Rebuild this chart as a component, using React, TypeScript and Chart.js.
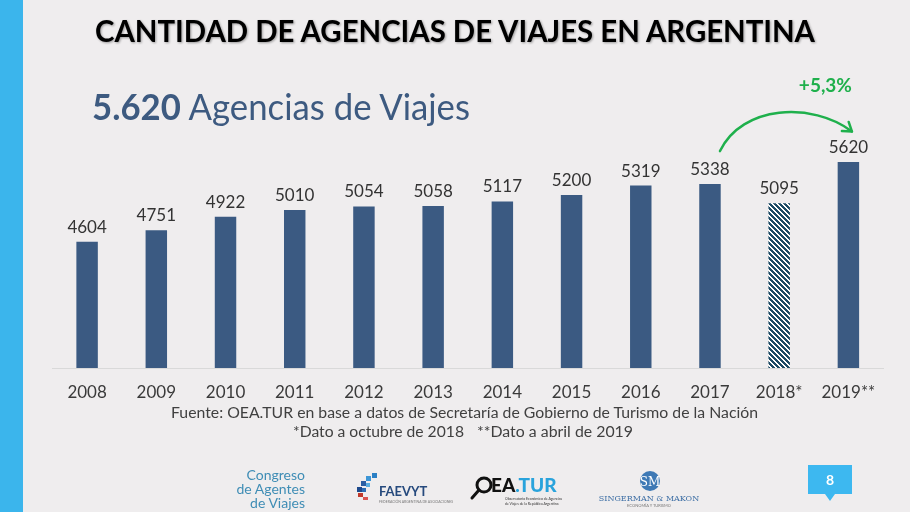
import React, { useEffect, useRef } from "react";
import { Chart, registerables } from "chart.js";

Chart.register(...registerables);

// ---- data ----
const years = ["2008", "2009", "2010", "2011", "2012", "2013", "2014", "2015", "2016", "2017", "2018*", "2019**"];
const agencies = [4604, 4751, 4922, 5010, 5054, 5058, 5117, 5200, 5319, 5338, 5095, 5620];
const estimated = [false, false, false, false, false, false, false, false, false, false, true, false];
const yMin = 3000;
const yMax = 6000;
const growthFrom = 9; // 2017
const growthTo = 11; // 2019**

const BAR = "#3b5a82";
const GREEN = "#1fb04c";
const FONT = "Lato, 'Open Sans', sans-serif";

function makeHatch(): CanvasPattern | string {
  const s = 5;
  const c = document.createElement("canvas");
  c.width = s;
  c.height = s;
  const g = c.getContext("2d");
  if (!g) return BAR;
  const img = g.createImageData(s, s);
  for (let y = 0; y < s; y++) {
    for (let x = 0; x < s; x++) {
      const dark = (((x - y) % s) + s) % s < 3;
      const i = (y * s + x) * 4;
      if (dark) {
        img.data[i] = 0x1d; img.data[i + 1] = 0x4a; img.data[i + 2] = 0x64;
      } else {
        img.data[i] = 255; img.data[i + 1] = 255; img.data[i + 2] = 255;
      }
      img.data[i + 3] = 255;
    }
  }
  g.putImageData(img, 0, 0);
  const main = document.createElement("canvas").getContext("2d");
  return main ? (main.createPattern(c, "repeat") as CanvasPattern) : BAR;
}

const labelsPlugin = {
  id: "valueLabelsAndArrow",
  afterDatasetsDraw(chart: any) {
    const ctx = chart.ctx as CanvasRenderingContext2D;
    const meta = chart.getDatasetMeta(0);
    ctx.save();
    ctx.font = `17px ${FONT}`;
    ctx.fillStyle = "#333333";
    ctx.textAlign = "center";
    ctx.textBaseline = "alphabetic";
    meta.data.forEach((bar: any, i: number) => {
      ctx.fillText(String(agencies[i]), bar.x, bar.y - 9);
    });

    // growth arrow
    const a = meta.data[growthFrom];
    const b = meta.data[growthTo];
    const p0 = { x: a.x + 10, y: a.y - 33 };
    const p3 = { x: b.x + 3.5, y: b.y - 30.5 };
    const c1 = { x: p0.x + 22, y: p0.y - 46 };
    const c2 = { x: p3.x - 40, y: p3.y - 30 };
    ctx.strokeStyle = GREEN;
    ctx.lineWidth = 2.5;
    ctx.lineCap = "round";
    ctx.lineJoin = "round";
    ctx.beginPath();
    ctx.moveTo(p0.x, p0.y);
    ctx.bezierCurveTo(c1.x, c1.y, c2.x, c2.y, p3.x, p3.y);
    ctx.stroke();
    const ang = Math.atan2(p3.y - c2.y, p3.x - c2.x) + Math.PI;
    const L = 10;
    ctx.beginPath();
    ctx.moveTo(p3.x + L * Math.cos(ang - 0.6), p3.y + L * Math.sin(ang - 0.6));
    ctx.lineTo(p3.x, p3.y);
    ctx.lineTo(p3.x + L * Math.cos(ang + 0.6), p3.y + L * Math.sin(ang + 0.6));
    ctx.stroke();

    const g = (agencies[growthTo] / agencies[growthFrom] - 1) * 100;
    const gTxt = "+" + g.toFixed(1).replace(".", ",") + "%";
    ctx.font = `bold 19px ${FONT}`;
    ctx.fillStyle = GREEN;
    ctx.textAlign = "center";
    ctx.fillText(gTxt, b.x - 23, b.y - 70);
    ctx.restore();
  },
};

export default function App() {
  const ref = useRef<HTMLCanvasElement>(null);

  useEffect(() => {
    const canvas = ref.current;
    if (!canvas) return;
    const hatch = makeHatch();
    const colors = estimated.map((e) => (e ? hatch : BAR));
    const chart = new Chart(canvas, {
      type: "bar",
      data: {
        labels: years,
        datasets: [
          {
            data: agencies,
            backgroundColor: colors as any,
            borderWidth: 0,
            barPercentage: 0.31,
            categoryPercentage: 1,
          },
        ],
      },
      options: {
        animation: false,
        responsive: false,
        devicePixelRatio: 1,
        events: [],
        layout: { padding: { left: 52.5, right: 27, top: 132, bottom: 95.6 } },
        plugins: { legend: { display: false }, tooltip: { enabled: false }, title: { display: false } },
        scales: {
          x: {
            grid: { display: false, drawTicks: false },
            border: { display: true, color: "#d9d9d9", width: 1 },
            ticks: { color: "#3a3a3a", font: { family: FONT, size: 17 }, padding: 14, maxRotation: 0, autoSkip: false },
          },
          y: { display: false, min: yMin, max: yMax },
        },
      },
      plugins: [labelsPlugin],
    });
    return () => chart.destroy();
  }, []);

  return (
    <div style={{ position: "fixed", left: 0, top: 0, width: 910, height: 512, background: "#efedee", overflow: "hidden" }}>
      <div style={{ position: "absolute", left: 0, top: 0, width: 23, height: 512, background: "#3bb5ec" }} />
      <canvas ref={ref} width={910} height={512} style={{ position: "absolute", left: 0, top: 0, width: 910, height: 512 }} />
      <svg width={910} height={512} style={{ position: "absolute", left: 0, top: 0 }} fontFamily={FONT}>
        <text x={95} y={42} fontSize={30} fontWeight={700} fill="#000" textLength={720} lengthAdjust="spacingAndGlyphs"
          style={{ filter: "drop-shadow(1px 1px 1px rgba(0,0,0,0.35))" }}>
          CANTIDAD DE AGENCIAS DE VIAJES EN ARGENTINA
        </text>
        <text x={92} y={120} fontSize={36} fill="#3d5a80" textLength={378} lengthAdjust="spacingAndGlyphs">
          <tspan fontWeight={700}>5.620</tspan> Agencias de Viajes
        </text>
        <text x={171} y={418} fontSize={14.5} fill="#404040" textLength={587} lengthAdjust="spacingAndGlyphs">
          Fuente: OEA.TUR en base a datos de Secretaría de Gobierno de Turismo de la Nación
        </text>
        <text x={293} y={437} fontSize={14.5} fill="#404040" textLength={171} lengthAdjust="spacingAndGlyphs">
          *Dato a octubre de 2018
        </text>
        <text x={477} y={437} fontSize={14.5} fill="#404040" textLength={156} lengthAdjust="spacingAndGlyphs">
          **Dato a abril de 2019
        </text>

        {/* Congreso logo */}
        <g fill="#3f8db5" fontSize={14} textAnchor="end">
          <text x={305} y={480}>Congreso</text>
          <text x={305} y={494}>de Agentes</text>
          <text x={305} y={508}>de Viajes</text>
        </g>

        {/* FAEVYT logo */}
        <g>
          <rect x={372} y={473} width={5} height={5} fill="#2a7fc4" />
          <rect x={366} y={476} width={5} height={5} fill="#3d96d6" />
          <rect x={361} y={481} width={5} height={5} fill="#2b5fa3" />
          <rect x={357} y={487} width={5} height={5} fill="#1e4a8c" />
          <rect x={366} y={483} width={4} height={4} fill="#5aaee0" />
          <rect x={362} y={488} width={4} height={4} fill="#2c6db4" />
          <rect x={358} y={493} width={5} height={4} fill="#c0392b" />
          <rect x={363} y={497} width={5} height={3} fill="#d9534f" />
          <text x={379} y={496} fontSize={13} fontWeight={700} fill="#264a7d">FAEVYT</text>
          <text x={379} y={503} fontSize={3.5} fill="#777">FEDERACIÓN ARGENTINA DE ASOCIACIONES</text>
        </g>

        {/* OEA.TUR logo */}
        <g>
          <circle cx={484} cy={485} r={7} fill="none" stroke="#111" strokeWidth={3} />
          <line x1={479} y1={490} x2={472} y2={498} stroke="#111" strokeWidth={3} strokeLinecap="round" />
          <text x={491} y={492} fontSize={19} fontWeight={900} fill="#111">EA<tspan fill="#29a3dc">.TUR</tspan></text>
          <text x={505} y={500} fontSize={3.5} fill="#333">Observatorio Económico de Agencias</text>
          <text x={505} y={505} fontSize={3.5} fill="#333">de Viajes de la República Argentina</text>
        </g>

        {/* Singerman & Makon logo */}
        <g>
          <circle cx={650} cy={481} r={10} fill="#3e79b5" />
          <text x={650} y={486} fontSize={12} fill="#fff" textAnchor="middle" fontFamily="'DejaVu Serif', serif">SM</text>
          <text x={649} y={501} fontSize={8} fill="#3e6fa5" textAnchor="middle" fontFamily="'DejaVu Serif', serif">SINGERMAN &amp; MAKON</text>
          <text x={649} y={507} fontSize={4} fill="#777" textAnchor="middle">ECONOMÍA Y TURISMO</text>
        </g>

        {/* page number */}
        <path d="M808 465 H852 V494 H835 L830 501 L825 494 H808 Z" fill="#3db8f0" />
        <text x={830} y={485} fontSize={14} fontWeight={700} fill="#fff" textAnchor="middle">8</text>
      </svg>
    </div>
  );
}
